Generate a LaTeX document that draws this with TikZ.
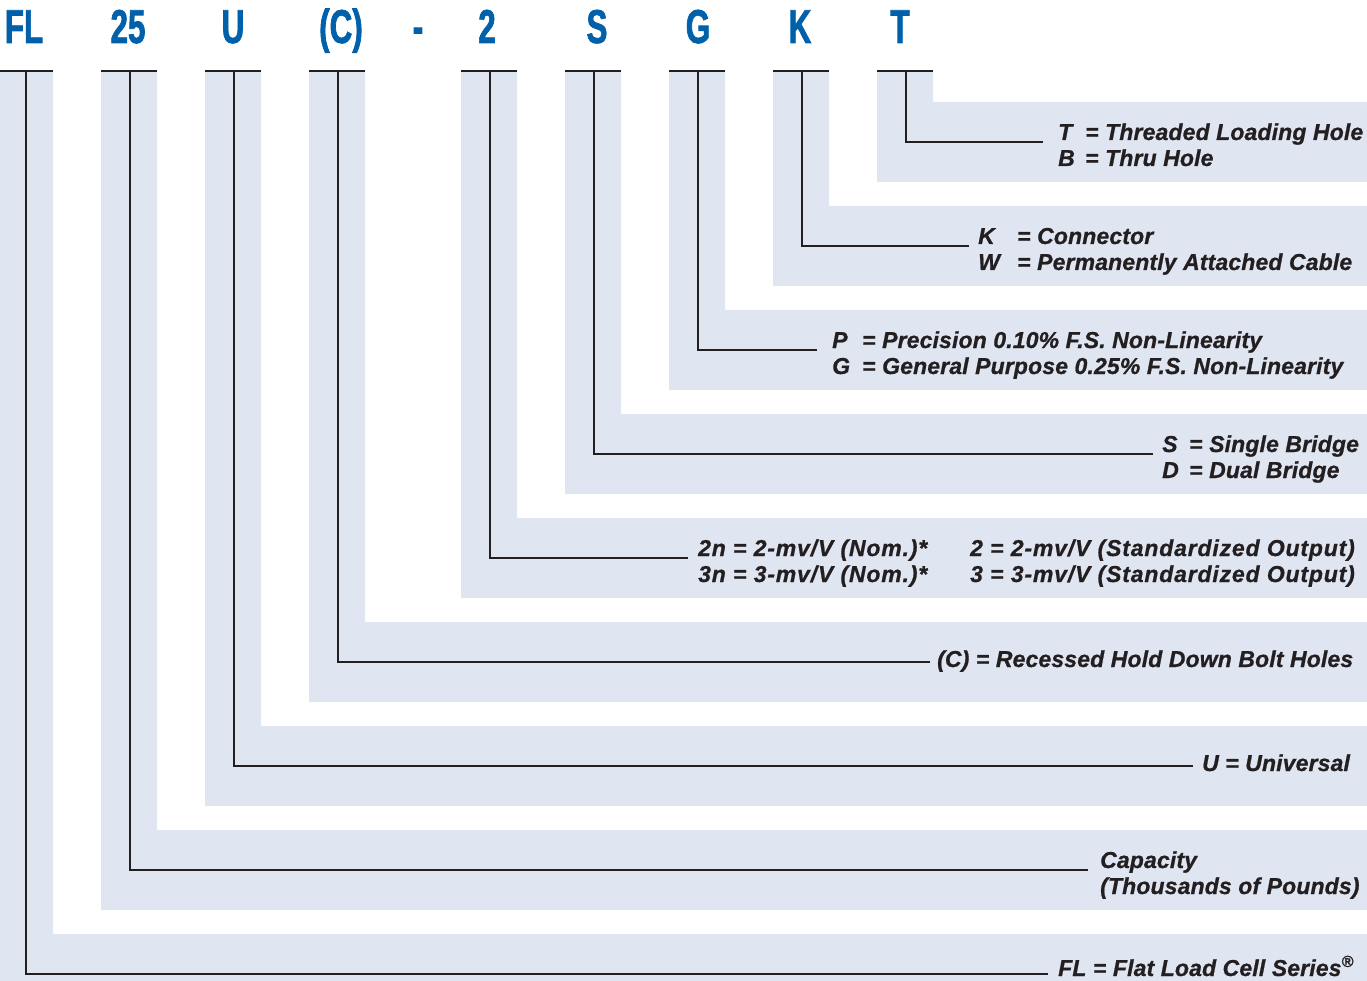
\documentclass[tikz,border=0pt]{standalone}
\usepackage{fontspec}
\setmainfont{Liberation Sans}
\newfontfamily\codefont[FakeStretch=0.66]{Liberation Sans}
\definecolor{bandblue}{HTML}{DFE6F2}
\definecolor{codeblue}{HTML}{0060A9}
\definecolor{ink}{HTML}{231F20}
\tikzset{
  band/.style={fill=bandblue, draw=none},
  bar/.style={draw=ink, line width=2pt},
  lead/.style={draw=ink, line width=2pt, line join=miter},
  code/.style={inner sep=0pt, anchor=base, text=codeblue, font=\codefont\bfseries\fontsize{47.5}{50}\selectfont\addfontfeature{FakeBold=1.5}},
  desc/.style={inner sep=0pt, anchor=base west, text=ink, align=left, font=\bfseries\itshape\fontsize{23}{26}\selectfont\addfontfeature{FakeBold=0.8,LetterSpace=0.6}},
  wide/.style={font=\bfseries\itshape\fontsize{23}{26}\selectfont\addfontfeature{FakeBold=0.8,LetterSpace=3.6}},
}
\newcommand{\lbl}[2]{\makebox[#1][l]{#2}}
\begin{document}
\begin{tikzpicture}[x=1pt,y=-1pt]
\useasboundingbox (0,0) rectangle (1367,981);
% bands: left x, top y
\foreach \L/\T in {-3/934,101/830,205/726,309/622,461/518,565/414,669/310,773/206,877/102}{
  \path[band] (\L,72) -- (\L+56,72) -- (\L+56,\T) -- (1367,\T) -- (1367,\T+80) -- (\L,\T+80) -- cycle;
  \path[bar] (\L,71) -- (\L+56,71);
}
% code letters
\node[code] (cFL) at (24,43) {FL};
\node[code] (c25) at (128,43) {25};
\node[code] (cU)  at (233,43) {U};
\node[code] (cC)  at (341,43) {(C)};
\node[code] (cdash) at (418,43) {-};
\node[code] (c2)  at (487,43) {2};
\node[code] (cS)  at (597,43) {S};
\node[code] (cG)  at (698,43) {G};
\node[code] (cK)  at (800,43) {K};
\node[code] (cT)  at (900,43) {T};
% column tops
\coordinate (tFL) at (25.5,71);
\coordinate (t25) at (129.5,71);
\coordinate (tU)  at (233.5,71);
\coordinate (tC)  at (337.5,71);
\coordinate (t2)  at (489.5,71);
\coordinate (tS)  at (593.5,71);
\coordinate (tG)  at (697.5,71);
\coordinate (tK)  at (801.5,71);
\coordinate (tT)  at (905.5,71);
% lead ends
\coordinate (eT)  at (1043,142);
\coordinate (eK)  at (969,246);
\coordinate (eG)  at (817,350);
\coordinate (eS)  at (1153,454);
\coordinate (e2)  at (688,558);
\coordinate (eC)  at (930,662);
\coordinate (eU)  at (1193,766);
\coordinate (e25) at (1088,870);
\coordinate (eFL) at (1048,974);
% descriptions (base = baseline of last line)
\node[desc] (dT) at (1058,166) {\lbl{27pt}{T}= Threaded Loading Hole\\\lbl{27pt}{B}= Thru Hole};
\node[desc] (dK) at (978,270) {\lbl{39pt}{K}= Connector\\\lbl{39pt}{W}= Permanently Attached Cable};
\node[desc] (dG) at (832,374) {\lbl{30pt}{P}= Precision 0.10\% F.S. Non-Linearity\\\lbl{30pt}{G}= General Purpose 0.25\% F.S. Non-Linearity};
\node[desc] (dS) at (1162,478) {\lbl{27pt}{S}= Single Bridge\\\lbl{27pt}{D}= Dual Bridge};
\node[desc,wide] (d2) at (698,582) {\lbl{272pt}{2n = 2-mv/V (Nom.)*}2 = 2-mv/V (Standardized Output)\\\lbl{272pt}{3n = 3-mv/V (Nom.)*}3 = 3-mv/V (Standardized Output)};
\node[desc] (dC) at (937,667) {(C) = Recessed Hold Down Bolt Holes};
\node[desc] (dU) at (1202,771) {U = Universal};
\node[desc] (d25) at (1100,894) {Capacity\\(Thousands of Pounds)};
\node[desc] (dFL) at (1058,976) {FL = Flat Load Cell Series\textsuperscript{\textregistered}};
% leads
\foreach \n in {T,K,G,S,2,C,U,25,FL}{
  \draw[lead] (t\n) |- (e\n);
}
\end{tikzpicture}
\end{document}
